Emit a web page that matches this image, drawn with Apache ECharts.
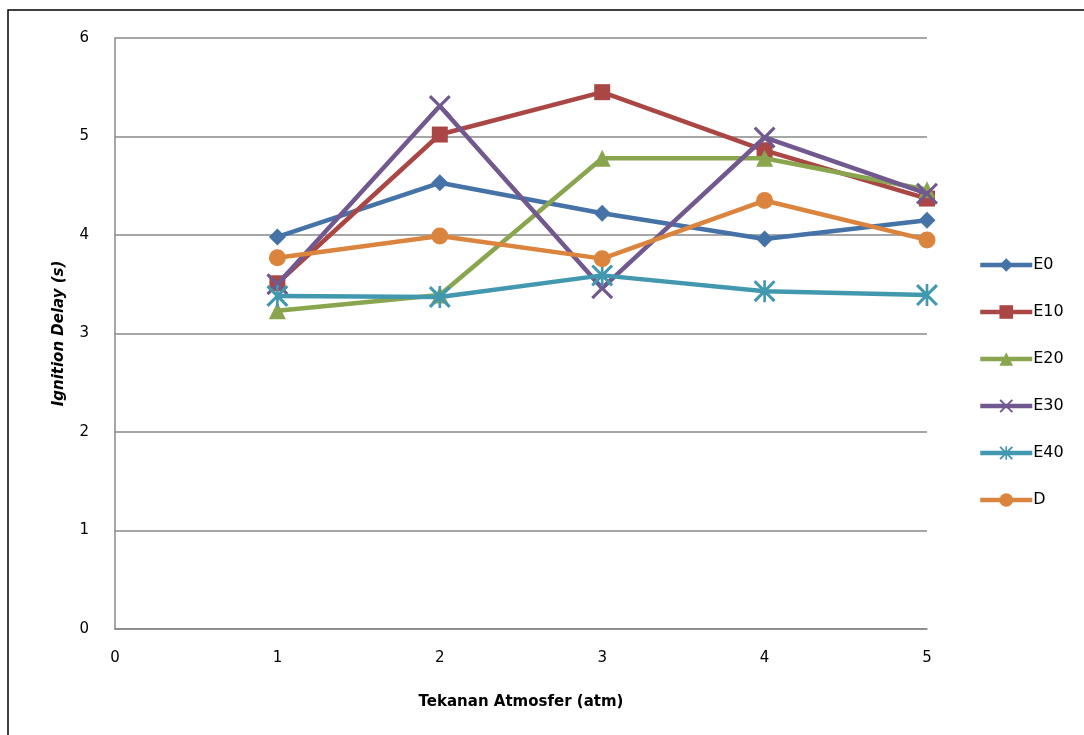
<!DOCTYPE html>
<html>
<head>
<meta charset="utf-8">
<script src="https://cdn.jsdelivr.net/npm/echarts@6/dist/echarts.min.js"></script>
<style>html,body{margin:0;padding:0;background:#fff;}#c{width:1084px;height:735px;}</style>
</head>
<body>
<div id="c"></div>
<script>
const xValues = [1, 2, 3, 4, 5];
const seriesNames = ['E0', 'E10', 'E20', 'E30', 'E40', 'D'];
const E0 = [3.98, 4.53, 4.22, 3.96, 4.15];
const E10 = [3.51, 5.02, 5.45, 4.86, 4.37];
const E20 = [3.23, 3.39, 4.78, 4.78, 4.46];
const E30 = [3.50, 5.31, 3.46, 4.99, 4.42];
const E40 = [3.38, 3.37, 3.59, 3.43, 3.39];
const D = [3.77, 3.99, 3.76, 4.35, 3.95];
const yTicks = [0, 1, 2, 3, 4, 5, 6];

const colors = ['#4572A7', '#AA4643', '#89A54E', '#71588F', '#4198AF', '#DB843D'];
const xPath = 'path://M0,1L1,0L10,9L9,10Z M9,0L10,1L1,10L0,9Z';
const starPath = 'path://M0,1L1,0L10,9L9,10Z M9,0L10,1L1,10L0,9Z M4.4,0L5.6,0L5.6,10L4.4,10Z';
const symbols = ['diamond', 'rect', 'triangle', xPath, starPath, 'circle'];
const sizes = [17, 16, 17, 22, 22, 17];
const allData = [E0, E10, E20, E30, E40, D];

const series = seriesNames.map((n, i) => ({
  name: n,
  type: 'line',
  data: xValues.map((x, j) => [x, allData[i][j]]),
  symbol: symbols[i],
  symbolSize: sizes[i],
  showAllSymbol: true,
  lineStyle: { width: 4.5, color: colors[i] },
  itemStyle: { color: colors[i] },
  emphasis: { disabled: true },
  animation: false,
  z: 2 + i
}));

const chart = echarts.init(document.getElementById('c'));
chart.setOption({
  backgroundColor: '#fff',
  animation: false,
  color: colors,
  grid: { left: 115, right: 157, top: 38, bottom: 106, containLabel: false },
  xAxis: {
    type: 'value', min: 0, max: 5, interval: 1,
    name: 'Tekanan Atmosfer (atm)', nameLocation: 'middle', nameGap: 66,
    nameTextStyle: { fontFamily: 'DejaVu Sans', fontSize: 15, fontWeight: 'bold', color: '#000' },
    axisLine: { lineStyle: { color: '#888', width: 1.5 } },
    axisTick: { show: false },
    splitLine: { show: false },
    axisLabel: { fontFamily: 'DejaVu Sans', fontSize: 15, color: '#000', margin: 22 }
  },
  yAxis: {
    type: 'value', min: 0, max: 6, interval: 1,
    name: 'Ignition Delay (s)', nameLocation: 'middle', nameGap: 48,
    nameTextStyle: { fontFamily: 'DejaVu Sans', fontSize: 15, fontWeight: 'bold', fontStyle: 'italic', color: '#000' },
    axisLine: { show: true, lineStyle: { color: '#888', width: 1.5 } },
    axisTick: { show: false },
    splitLine: { lineStyle: { color: '#888', width: 1.5 } },
    axisLabel: { fontFamily: 'DejaVu Sans', fontSize: 15, color: '#000', margin: 26,
      formatter: v => yTicks.includes(v) ? String(v) : '' }
  },
  legend: {
    orient: 'vertical', left: 973, top: 252,
    itemWidth: 52, itemHeight: 17, itemGap: 31,
    lineStyle: { width: 4.5 },
    textStyle: { fontFamily: 'DejaVu Sans', fontSize: 16, color: '#000', padding: [0, 0, 0, -4] },
    data: seriesNames
  },
  graphic: [{
    type: 'rect', silent: true, z: 100,
    shape: { x: 8, y: 10, width: 1200, height: 900 },
    style: { fill: 'none', stroke: '#000', lineWidth: 1.5 }
  }],
  series: series
});
</script>
</body>
</html>
